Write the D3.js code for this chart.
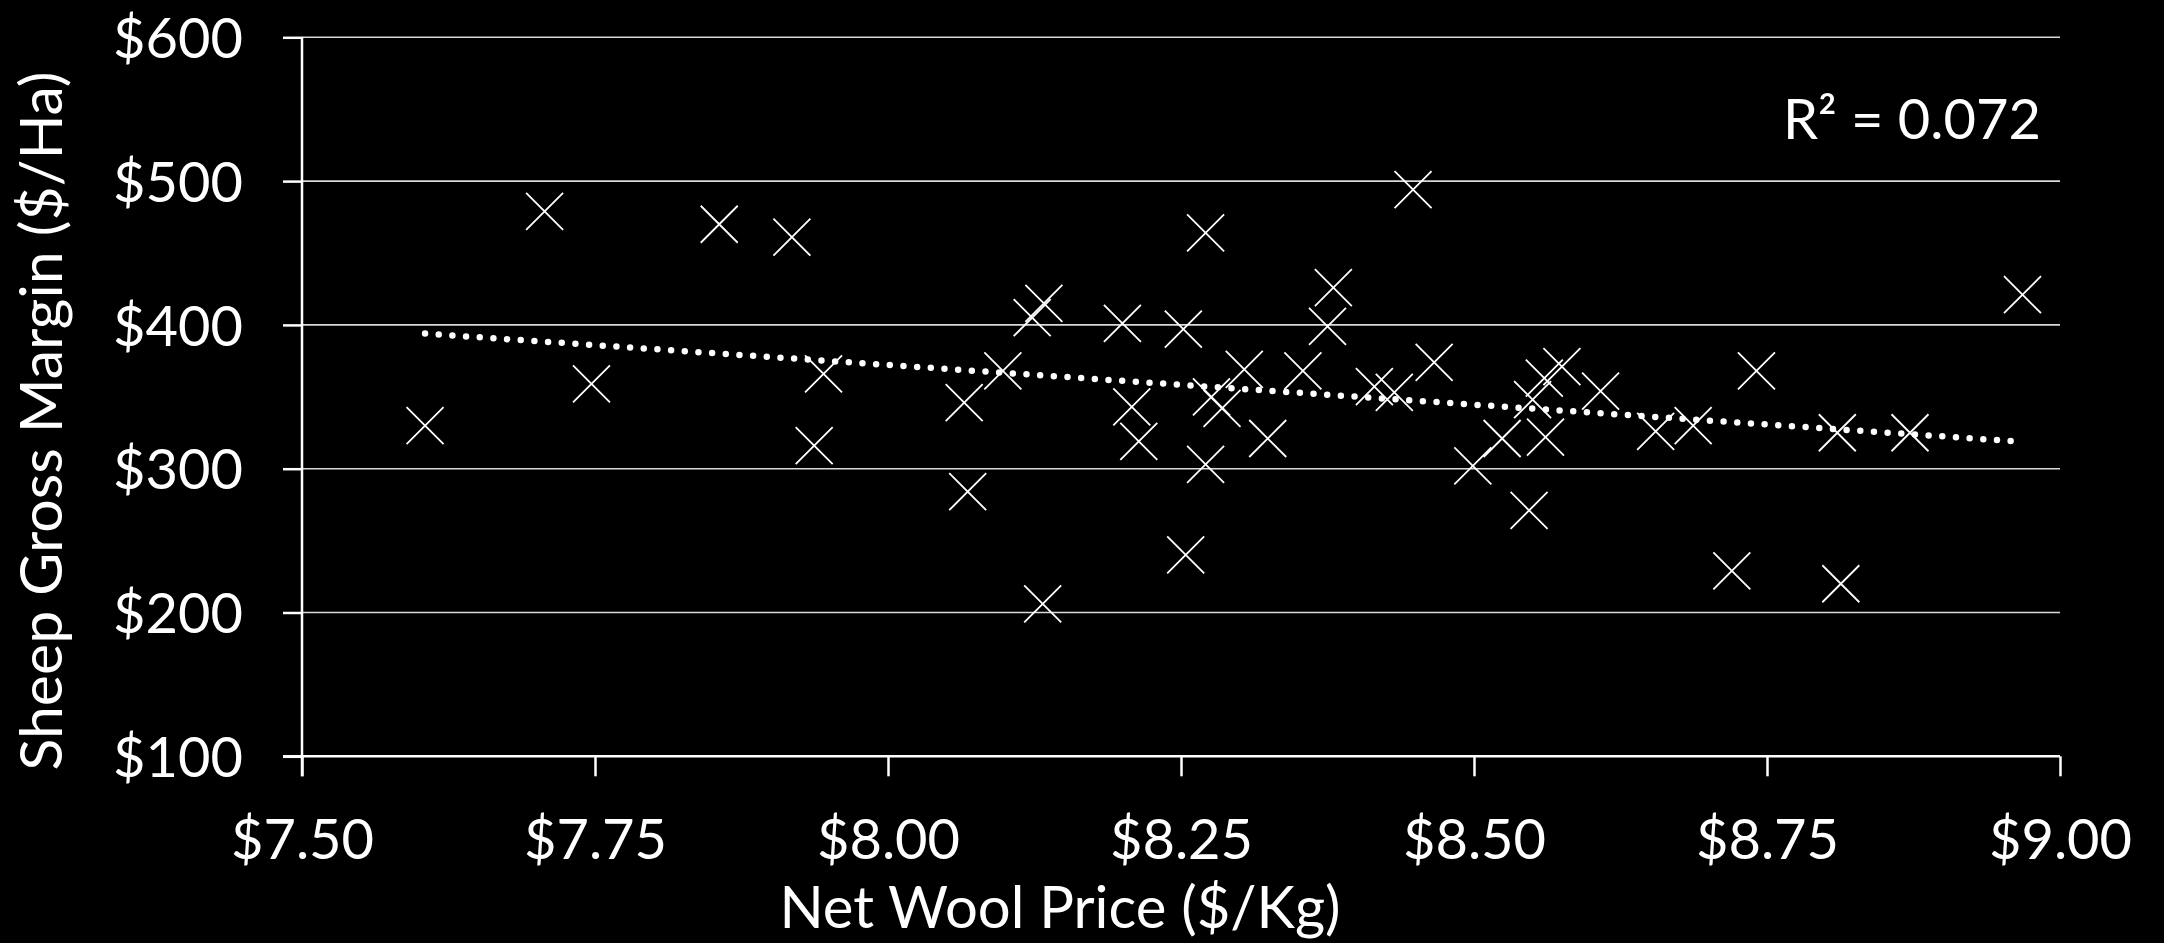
<!DOCTYPE html>
<html>
<head>
<meta charset="utf-8">
<script src="https://cdn.jsdelivr.net/npm/d3@7"></script>
<style>
  html, body { margin: 0; padding: 0; background: #000; }
  svg { display: block; }
  text { font-family: Lato, "Open Sans", sans-serif; fill: #fff; }
</style>
</head>
<body>
<script>
// ---- data ----
const woolPrice = [7.605, 7.707, 7.747, 7.856, 7.918, 7.945, 7.937,
  8.065, 8.068, 8.098, 8.123, 8.133, 8.132, 8.200, 8.208, 8.214, 8.252, 8.254,
  8.271, 8.276, 8.285, 8.271, 8.304, 8.324, 8.354, 8.380, 8.375, 8.415, 8.432,
  8.448, 8.466, 8.499, 8.524, 8.547, 8.550, 8.560, 8.575, 8.561, 8.608, 8.655,
  8.687, 8.741, 8.720, 8.813, 8.810, 8.872, 8.968];
const grossMargin = [330, 479, 359, 470, 461, 366, 316,
  346, 284, 368, 405, 415, 206, 401, 343, 319, 397, 240,
  464, 350, 342, 303, 369, 321, 368, 426, 399, 357, 353,
  494, 374, 302, 321, 271, 348, 363, 371, 322, 354, 326,
  330, 368, 229, 220, 325, 325, 421];
const xTicks = [7.50, 7.75, 8.00, 8.25, 8.50, 8.75, 9.00];
const yTicks = [100, 200, 300, 400, 500, 600];
const xTitle = "Net Wool Price ($/Kg)";
const yTitle = "Sheep Gross Margin ($/Ha)";
const r2Label = "R\u00B2 = 0.072";

// ---- layout ----
const W = 2164, H = 943;
const pLeft = 302, pRight = 2060, pTop = 37.3, pBottom = 756.3;

const svg = d3.select("body").append("svg").attr("width", W).attr("height", H);
svg.append("rect").attr("width", W).attr("height", H).attr("fill", "#000");

const x = d3.scaleLinear().domain([7.5, 9.0]).range([pLeft, pRight]);
const y = d3.scaleLinear().domain([100, 600]).range([pBottom, pTop]);

// gridlines
svg.append("g").selectAll("line").data(yTicks.filter(d => d > 100)).join("line")
  .attr("x1", pLeft).attr("x2", pRight)
  .attr("y1", d => y(d)).attr("y2", d => y(d))
  .attr("stroke", "#d9d9d9").attr("stroke-width", 1.6);

// y axis
const yAxis = svg.append("g").attr("transform", `translate(${pLeft},0)`)
  .call(d3.axisLeft(y).tickValues(yTicks).tickSize(19).tickPadding(40)
    .tickFormat(d => "$" + d));
yAxis.select(".domain").attr("stroke", "#fff").attr("stroke-width", 2.5)
  .attr("d", `M0,${pTop}V${pBottom + 20}`);
yAxis.selectAll(".tick line").attr("stroke", "#fff").attr("stroke-width", 2.5);
yAxis.selectAll(".tick text").attr("fill", "#fff").attr("font-size", 56)
  .attr("font-family", "Lato").attr("dy", "0.36em");

// x axis
const xAxis = svg.append("g").attr("transform", `translate(0,${pBottom})`)
  .call(d3.axisBottom(x).tickValues(xTicks).tickSize(20).tickPadding(0)
    .tickFormat(d => "$" + d.toFixed(2)));
xAxis.select(".domain").attr("stroke", "#fff").attr("stroke-width", 2.5)
  .attr("d", `M${pLeft - 19},0H${pRight}`);
xAxis.selectAll(".tick line").attr("stroke", "#fff").attr("stroke-width", 2.5);
xAxis.selectAll(".tick text").attr("fill", "#fff").attr("font-size", 56)
  .attr("font-family", "Lato").attr("dy", null).attr("y", 103);

// trend line (least squares from the data)
const n = woolPrice.length;
const mx = d3.mean(woolPrice), my = d3.mean(grossMargin);
let sxy = 0, sxx = 0;
for (let i = 0; i < n; i++) {
  sxy += (woolPrice[i] - mx) * (grossMargin[i] - my);
  sxx += (woolPrice[i] - mx) ** 2;
}
const slope = sxy / sxx, intercept = my - slope * mx;
const xExt = d3.extent(woolPrice);
const trend = xExt.map(v => [v, intercept + slope * v]);
svg.append("path")
  .attr("d", d3.line().x(d => x(d[0])).y(d => y(d[1]))(trend))
  .attr("fill", "none").attr("stroke", "#fff").attr("stroke-width", 6.5)
  .attr("stroke-linecap", "round").attr("stroke-dasharray", "0 13.7");

// points (X markers)
const s = 18.5;
svg.append("g").selectAll("path").data(woolPrice.map((v, i) => [v, grossMargin[i]])).join("path")
  .attr("d", d => {
    const cx = x(d[0]), cy = y(d[1]);
    return `M${cx - s},${cy - s}L${cx + s},${cy + s}M${cx - s},${cy + s}L${cx + s},${cy - s}`;
  })
  .attr("fill", "none").attr("stroke", "#fff").attr("stroke-width", 1.8);

// R² label
svg.append("text").attr("x", 2041).attr("y", 139).attr("text-anchor", "end")
  .attr("font-size", 56).text(r2Label);

// axis titles
svg.append("text").attr("x", 1060).attr("y", 928).attr("text-anchor", "middle")
  .attr("font-size", 58).text(xTitle);
svg.append("text").attr("transform", "translate(62,421) rotate(-90)")
  .attr("text-anchor", "middle").attr("font-size", 59).text(yTitle);
</script>
</body>
</html>
